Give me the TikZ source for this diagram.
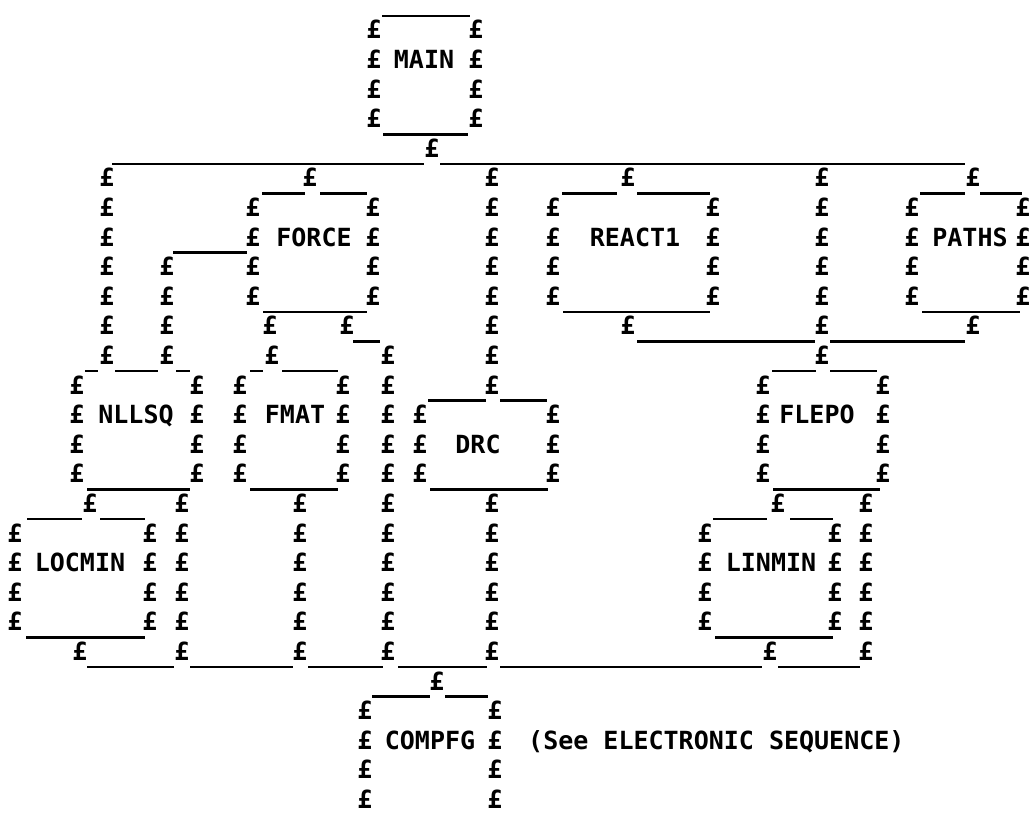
\documentclass[tikz,border=0pt]{standalone}
\usepackage{fontspec}
\newfontfamily\pfont{DejaVu Sans Mono}
\begin{document}
\begin{tikzpicture}[x=1pt,y=-29.6pt,
  pd/.style={inner sep=0pt, font=\pfont\bfseries\fontsize{25}{25}\selectfont},
  lbl/.style={inner sep=0pt, text depth=0pt, font=\pfont\bfseries\fontsize{25}{25}\selectfont},
  ul/.style={line width=2.6pt}]
\useasboundingbox[fill=white] (0,0) rectangle (1031,27.6);
\newcommand\chain[3]{\foreach \r in {#2,...,#3} {\node[pd] (p#1r\r) at (#1,\r) {£};}}
\newcommand\us[3]{\draw[ul] (#2,#1+0.54) -- (#3,#1+0.54);}
% MAIN
\chain{374}{1}{4}\chain{476}{1}{4}
\node[lbl] (main) at (424,2) {MAIN};
\us{0}{382}{470}\us{4}{383}{468}
\chain{432}{5}{5}
\us{5}{112}{424}\us{5}{440}{965}
% row 6 level
\chain{107}{6}{12}
\chain{310}{6}{6}\chain{253}{7}{10}\chain{373}{7}{10}
\node[lbl] (force) at (314,8) {FORCE};
\us{6}{262}{305}\us{6}{320}{367}\us{10}{263}{367}
\us{8}{173}{247}\chain{167}{9}{12}
\chain{492}{6}{13}
\chain{628}{6}{6}\chain{553}{7}{10}\chain{713}{7}{10}\chain{628}{11}{11}
\node[lbl] (react) at (635,8) {REACT1};
\us{6}{562}{617}\us{6}{637}{710}\us{10}{563}{710}
\chain{822}{6}{12}
\chain{973}{6}{6}\chain{912}{7}{10}\chain{1023}{7}{10}\chain{973}{11}{11}
\node[lbl] (paths) at (970,8) {PATHS};
\us{6}{920}{965}\us{6}{980}{1022}\us{10}{922}{1020}
\us{11}{637}{815}\us{11}{830}{965}
% FORCE outlets
\chain{270}{11}{11}\chain{347}{11}{11}\us{11}{353}{380}
\chain{272}{12}{12}\chain{388}{12}{22}
% NLLSQ
\us{12}{85}{98}\us{12}{115}{158}\us{12}{176}{190}
\chain{77}{13}{16}\chain{197}{13}{16}
\node[lbl] (nllsq) at (136,14) {NLLSQ};
\us{16}{87}{190}
% FMAT
\us{12}{250}{263}\us{12}{282}{338}
\chain{240}{13}{16}\chain{343}{13}{16}
\node[lbl] (fmat) at (295,14) {FMAT};
\us{16}{250}{338}
% DRC
\us{13}{428}{486}\us{13}{500}{547}
\chain{420}{14}{16}\chain{553}{14}{16}
\node[lbl] (drc) at (478,15) {DRC};
\us{16}{430}{548}
% FLEPO
\us{12}{772}{816}\us{12}{830}{877}
\chain{763}{13}{16}\chain{883}{13}{16}
\node[lbl] (flepo) at (817,14) {FLEPO};
\us{16}{773}{880}
% LOCMIN
\chain{90}{17}{17}\chain{182}{17}{22}
\us{17}{27}{82}\us{17}{100}{145}
\chain{15}{18}{21}\chain{150}{18}{21}
\node[lbl] (locmin) at (80,19) {LOCMIN};
\us{21}{26}{145}\chain{80}{22}{22}
% FMAT / DRC outlets
\chain{300}{17}{22}\chain{492}{17}{22}
% LINMIN
\chain{778}{17}{17}\chain{866}{17}{22}
\us{17}{713}{767}\us{17}{790}{833}
\chain{705}{18}{21}\chain{835}{18}{21}
\node[lbl] (linmin) at (771,19) {LINMIN};
\us{21}{715}{833}\chain{770}{22}{22}
% bottom line
\us{22}{87}{174}\us{22}{190}{293}\us{22}{308}{383}\us{22}{398}{487}\us{22}{500}{762}\us{22}{778}{860}
% COMPFG
\chain{437}{23}{23}
\us{23}{372}{430}\us{23}{445}{488}
\chain{365}{24}{27}\chain{495}{24}{27}
\node[lbl] (compfg) at (430,25) {COMPFG};
\node[lbl,anchor=west] (note) at (528,25) {(See ELECTRONIC SEQUENCE)};
\end{tikzpicture}
\end{document}
